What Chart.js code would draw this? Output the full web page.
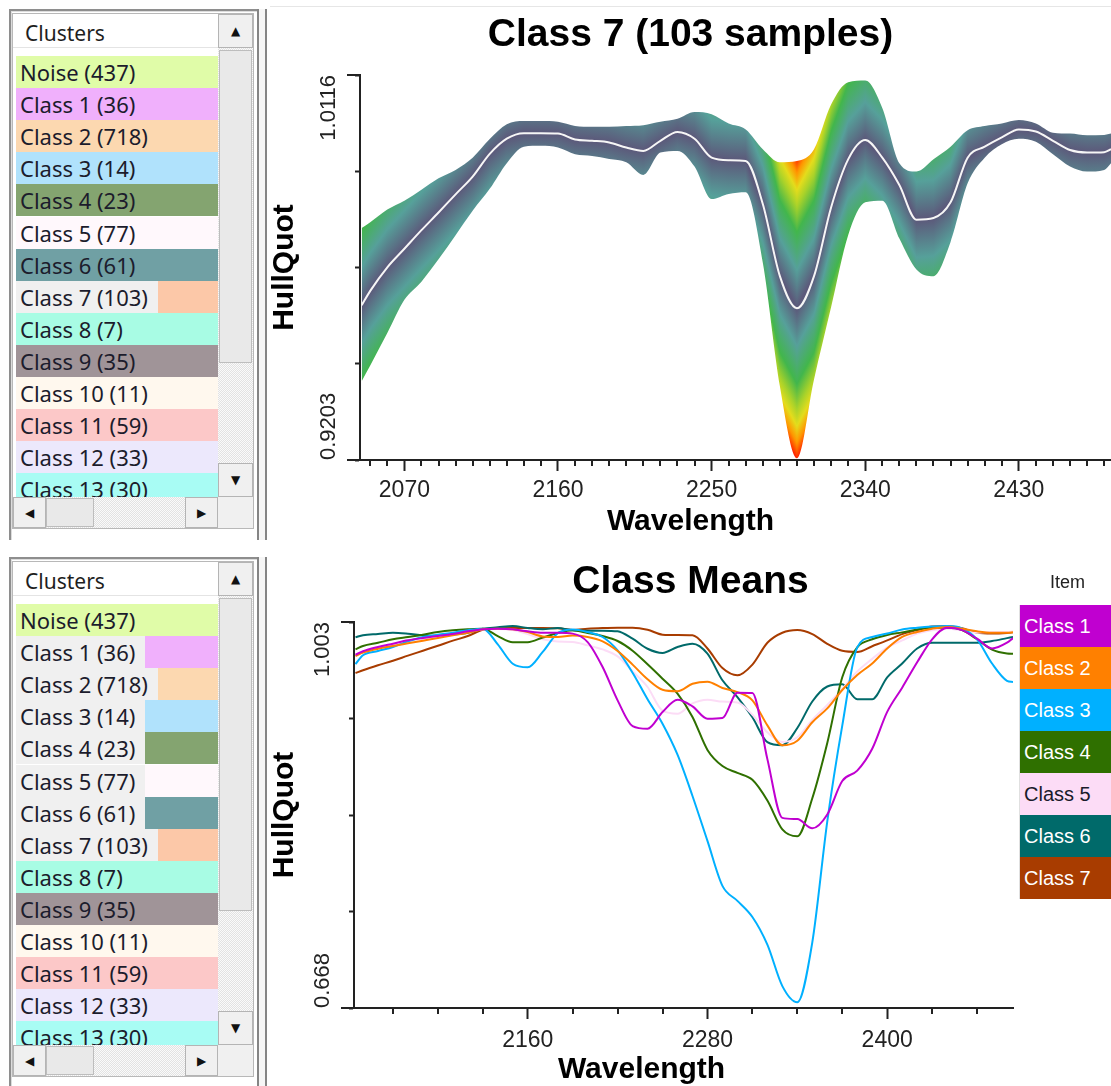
<!DOCTYPE html>
<html>
<head>
<meta charset="utf-8">
<title>Cluster spectra</title>
<script src="https://cdn.jsdelivr.net/npm/chart.js@4.4.1/dist/chart.umd.min.js"></script>
<style>
  html, body { margin: 0; padding: 0; background: #fff; }
  body { position: relative; width: 1111px; height: 1086px; overflow: hidden; font-family: "Noto Sans", "Open Sans", sans-serif; }
  .abs { position: absolute; box-sizing: border-box; }
  .frame { border-top: 2px solid #8e8e8e; border-left: 2px solid #8e8e8e; box-shadow: inset 1px 1px 0 #dcdcdc; }
  .splitter { border-left: 2px solid #858585; border-right: 2px solid #858585; background: #f6f6f6; }
  .listbox { background: #fff; border: 1px solid #b8b8b8; }
  .header { background: #fff; border-bottom: 1px solid #e4e4e4; font-size: 21px; line-height: 33px; padding: 3px 0 0 12px; color: #1e1e1e; }
  .rows { overflow: hidden; }
  .item { position: absolute; left: 0; width: 202px; height: 32px; display: flex; align-items: center; font-size: 22px; color: #1c1c2c; padding-left: 4px; white-space: nowrap; box-sizing: border-box; }
  .swatch { align-self: stretch; flex: 1; margin-left: 10px; }
  .btn { background: #f0f0f0; border: 1px solid #b4b4b4; display: flex; align-items: center; justify-content: center; font: 12px "DejaVu Sans", sans-serif; color: #111; }
  .track { background: repeating-conic-gradient(#e2e2e2 0 25%, #fafafa 0 50%) 0 0 / 2px 2px; }
  .thumb { background: #e9e9e9; border: 1px solid #bdbdbd; }
  .corner { background: #f0f0f0; }
  canvas { position: absolute; }
  #legendTitle { position: absolute; left: 1050px; top: 572px; font: 18px "Liberation Sans", Arial, sans-serif; color: #222; }
  #legend { position: absolute; left: 1019px; top: 605px; width: 92px; }
  .legend-item { height: 42px; font: 20px/42px "Liberation Sans", Arial, sans-serif; padding-left: 4px; box-sizing: border-box; border-left: 1px solid #e0e0e0; }
</style>
</head>
<body>
<div class="abs" style="left:270px;top:6px;width:841px;height:1px;background:#e6e6e6"></div>
<canvas id="classChart" width="841" height="532" style="left:270px;top:8px"></canvas>
<canvas id="meansChart" width="841" height="533" style="left:270px;top:553px"></canvas>
<div id="legendTitle">Item</div>
<div id="legend"></div>
<script>
// ---- data -------------------------------------------------------------
const clusterNames = ['Noise', 'Class 1', 'Class 2', 'Class 3', 'Class 4', 'Class 5', 'Class 6',
  'Class 7', 'Class 8', 'Class 9', 'Class 10', 'Class 11', 'Class 12', 'Class 13'];
const clusterCounts = [437, 36, 718, 14, 23, 77, 61, 103, 7, 35, 11, 59, 33, 30];
const clusterColors = ['#e0fca8', '#f0b0fc', '#fcd8b0', '#b0e2fc', '#84a470', '#fff8fc', '#70a0a4',
  '#fcc8a8', '#a8fce4', '#a09498', '#fff8ee', '#fcc8c8', '#ece8fc', '#a8fcf4'];

const wavelengths = [2045, 2050, 2060, 2070, 2080, 2090, 2100, 2110, 2120, 2130,
  2140, 2150, 2160, 2170, 2180, 2190, 2200, 2210, 2220, 2230,
  2240, 2250, 2260, 2270, 2280, 2290, 2300, 2310, 2320, 2330,
  2340, 2350, 2360, 2370, 2380, 2390, 2400, 2410, 2420, 2430,
  2440, 2450, 2460, 2470, 2480, 2484];

// Class 7: mean spectrum and the min / max envelope of its 103 samples
const classMean = [0.9570, 0.9604, 0.9660, 0.9704, 0.9748, 0.9790, 0.9833, 0.9875, 0.9929, 0.9965,
  0.9978, 0.9978, 0.9977, 0.9963, 0.9960, 0.9956, 0.9944, 0.9936, 0.9960, 0.9981,
  0.9965, 0.9920, 0.9914, 0.9912, 0.9810, 0.9639, 0.9563, 0.9639, 0.9802, 0.9916,
  0.9962, 0.9920, 0.9855, 0.9773, 0.9777, 0.9814, 0.9920, 0.9946, 0.9968, 0.9987,
  0.9982, 0.9960, 0.9938, 0.9932, 0.9933, 0.9940];
const bandUpper = [0.9753, 0.9767, 0.9797, 0.9818, 0.9844, 0.9871, 0.9891, 0.9920, 0.9964, 0.9999,
  1.0007, 1.0007, 1.0005, 0.9995, 0.9993, 0.9993, 0.9995, 0.9997, 1.0005, 1.0012,
  1.0028, 1.0023, 1.0001, 0.9987, 0.9940, 0.9909, 0.9912, 0.9940, 1.0046, 1.0099,
  1.0103, 1.0038, 0.9907, 0.9887, 0.9916, 0.9946, 0.9985, 0.9995, 1.0001, 1.0009,
  1.0001, 0.9979, 0.9977, 0.9973, 0.9974, 0.9977];
const bandLower = [0.9390, 0.9427, 0.9504, 0.9583, 0.9626, 0.9679, 0.9736, 0.9794, 0.9846, 0.9907,
  0.9946, 0.9948, 0.9944, 0.9928, 0.9924, 0.9917, 0.9909, 0.9879, 0.9932, 0.9936,
  0.9899, 0.9822, 0.9834, 0.9838, 0.9671, 0.9378, 0.9207, 0.9394, 0.9565, 0.9736,
  0.9814, 0.9818, 0.9728, 0.9655, 0.9639, 0.9720, 0.9859, 0.9920, 0.9952, 0.9965,
  0.9958, 0.9928, 0.9899, 0.9887, 0.9891, 0.9907];

// class means
const meanClass1 = [0.9746, 0.9776, 0.9813, 0.9842, 0.9871, 0.9891, 0.9908, 0.9926, 0.9949, 0.9967,
  0.9972, 0.9967, 0.9949, 0.9937, 0.9937, 0.9929, 0.9856, 0.9639, 0.9350, 0.9127,
  0.9104, 0.9249, 0.9356, 0.9298, 0.9191, 0.9197, 0.9417, 0.9414, 0.8840, 0.8330,
  0.8320, 0.8240, 0.8360, 0.8650, 0.8740, 0.8930, 0.9250, 0.9460, 0.9680, 0.9880,
  0.9980, 0.9960, 0.9885, 0.9800, 0.9850, 0.9890];
const meanClass2 = [0.9735, 0.9764, 0.9798, 0.9822, 0.9845, 0.9868, 0.9891, 0.9915, 0.9937, 0.9967,
  0.9972, 0.9967, 0.9943, 0.9905, 0.9900, 0.9912, 0.9900, 0.9862, 0.9778, 0.9660,
  0.9533, 0.9442, 0.9429, 0.9494, 0.9512, 0.9457, 0.9422, 0.9350, 0.9133, 0.8960,
  0.9000, 0.9160, 0.9280, 0.9440, 0.9570, 0.9670, 0.9800, 0.9900, 0.9943, 0.9972,
  0.9987, 0.9972, 0.9949, 0.9937, 0.9937, 0.9940];
const meanClass3 = [0.9665, 0.9741, 0.9778, 0.9813, 0.9862, 0.9900, 0.9920, 0.9937, 0.9958, 0.9972,
  0.9836, 0.9668, 0.9637, 0.9770, 0.9932, 0.9965, 0.9943, 0.9900, 0.9784, 0.9590,
  0.9359, 0.9147, 0.8878, 0.8520, 0.8130, 0.7740, 0.7610, 0.7470, 0.7230, 0.6870,
  0.6730, 0.7250, 0.8300, 0.9130, 0.9810, 0.9900, 0.9930, 0.9965, 0.9980, 0.9990,
  0.9995, 0.9975, 0.9880, 0.9670, 0.9520, 0.9510];
const meanClass4 = [0.9793, 0.9822, 0.9850, 0.9880, 0.9900, 0.9920, 0.9943, 0.9958, 0.9967, 0.9972,
  0.9908, 0.9855, 0.9855, 0.9895, 0.9935, 0.9958, 0.9935, 0.9908, 0.9865, 0.9781,
  0.9663, 0.9538, 0.9408, 0.9206, 0.8920, 0.8780, 0.8720, 0.8660, 0.8480, 0.8230,
  0.8170, 0.8500, 0.8980, 0.9550, 0.9810, 0.9880, 0.9918, 0.9940, 0.9965, 0.9980,
  0.9980, 0.9960, 0.9880, 0.9790, 0.9757, 0.9755];
const meanClass5 = [0.9740, 0.9770, 0.9805, 0.9835, 0.9862, 0.9885, 0.9905, 0.9922, 0.9945, 0.9965,
  0.9970, 0.9960, 0.9925, 0.9880, 0.9860, 0.9856, 0.9827, 0.9792, 0.9732, 0.9602,
  0.9466, 0.9260, 0.9234, 0.9324, 0.9356, 0.9339, 0.9331, 0.9225, 0.9073, 0.8989,
  0.9030, 0.9180, 0.9310, 0.9450, 0.9600, 0.9710, 0.9810, 0.9870, 0.9929, 0.9958,
  0.9972, 0.9958, 0.9937, 0.9943, 0.9943, 0.9949];
const meanClass6 = [0.9897, 0.9915, 0.9926, 0.9937, 0.9929, 0.9915, 0.9908, 0.9920, 0.9937, 0.9972,
  0.9984, 0.9995, 0.9978, 0.9967, 0.9978, 0.9958, 0.9955, 0.9955, 0.9949, 0.9885,
  0.9798, 0.9761, 0.9813, 0.9842, 0.9755, 0.9524, 0.9379, 0.9203, 0.8987, 0.8960,
  0.9110, 0.9340, 0.9470, 0.9490, 0.9360, 0.9360, 0.9550, 0.9670, 0.9800, 0.9850,
  0.9850, 0.9850, 0.9850, 0.9865, 0.9890, 0.9900];
const meanClass7 = [0.9587, 0.9611, 0.9654, 0.9694, 0.9738, 0.9781, 0.9824, 0.9868, 0.9908, 0.9963,
  0.9975, 0.9978, 0.9978, 0.9978, 0.9975, 0.9961, 0.9972, 0.9978, 0.9981, 0.9981,
  0.9963, 0.9920, 0.9917, 0.9915, 0.9800, 0.9630, 0.9567, 0.9660, 0.9850, 0.9937,
  0.9960, 0.9925, 0.9840, 0.9780, 0.9770, 0.9820, 0.9870, 0.9925, 0.9960, 0.9990,
  0.9995, 0.9975, 0.9937, 0.9930, 0.9935, 0.9940];

const meanLabels = ['Class 1', 'Class 2', 'Class 3', 'Class 4', 'Class 5', 'Class 6', 'Class 7'];
const meanSeries = [meanClass1, meanClass2, meanClass3, meanClass4, meanClass5, meanClass6, meanClass7];
const meanColors = ['#c000d0', '#ff8000', '#00b0ff', '#2f7000', '#fcdcf6', '#006a6a', '#a83c00'];

const xRange = [2044, 2484];
const topYRange = [0.9203, 1.0116];
const bottomYRange = [0.668, 1.003];
const topXTicks = [2070, 2160, 2250, 2340, 2430];
const bottomXTicks = [2160, 2280, 2400];
const topMinorTicks = [];
for (let w = 2050; w <= 2480; w += 10) if (!topXTicks.includes(w)) topMinorTicks.push(w);
const bottomMinorTicks = [2070, 2100, 2130, 2190, 2220, 2250, 2310, 2340, 2370, 2430, 2460];

// ---- cluster list panels ---------------------------------------------
function place(cls, left, top, width, height, text, parent) {
  const el = document.createElement('div');
  el.className = 'abs ' + cls;
  Object.assign(el.style, { left: left + 'px', top: top + 'px', width: width + 'px', height: height + 'px' });
  if (text) el.textContent = text;
  (parent || document.body).appendChild(el);
  return el;
}

function buildPanel(top, swatchRows) {
  place('frame', 9, top + 9, 250, 531);
  place('splitter', 257, top + 9, 10, 531);
  place('listbox', 12, top + 13, 242, 516);
  place('header', 13, top + 14, 205, 34, 'Clusters');
  const rows = place('rows', 16, top + 56, 202, 441);
  clusterNames.forEach((name, i) => {
    const row = document.createElement('div');
    row.className = 'item';
    row.style.top = Math.round(i * 32.1) + 'px';
    const label = document.createElement('span');
    label.textContent = name + ' (' + clusterCounts[i] + ')';
    row.appendChild(label);
    if (swatchRows.includes(i)) {
      row.style.background = '#f0f0f0';
      const sw = document.createElement('span');
      sw.className = 'swatch';
      sw.style.background = clusterColors[i];
      row.appendChild(sw);
    } else {
      row.style.background = clusterColors[i];
    }
    rows.appendChild(row);
  });
  place('track', 218, top + 48, 35, 449);
  place('btn', 218, top + 14, 35, 34, '\u25B2');
  place('thumb', 219, top + 50, 33, 313);
  place('btn', 218, top + 463, 35, 34, '\u25BC');
  place('track', 13, top + 497, 205, 31);
  place('btn', 13, top + 497, 33, 31, '\u25C0');
  place('thumb', 46, top + 498, 48, 29);
  place('btn', 185, top + 497, 33, 31, '\u25B6');
  place('corner', 218, top + 497, 35, 31);
}
buildPanel(0, [7]);
buildPanel(548, [1, 2, 3, 4, 5, 6, 7]);

// ---- chart helpers ----------------------------------------------------
Chart.defaults.font.family = '"Liberation Sans", Arial, sans-serif';
Chart.defaults.color = '#222';

const pairs = (xs, ys) => xs.map((x, i) => ({ x: x, y: ys[i] }));
const quarterTicks = (range) => [0, 1, 2, 3, 4].map(k => ({ value: range[0] + (range[1] - range[0]) * k / 4 }));

function meanAt(w) {
  if (w <= wavelengths[0]) return classMean[0];
  for (let i = 1; i < wavelengths.length; i++) {
    if (w <= wavelengths[i]) {
      const t = (w - wavelengths[i - 1]) / (wavelengths[i] - wavelengths[i - 1]);
      return classMean[i - 1] + (classMean[i] - classMean[i - 1]) * t;
    }
  }
  return classMean[classMean.length - 1];
}

// colour of the envelope by distance from the class mean
const devStops = [0, 0.009, 0.018, 0.024, 0.028, 0.032, 0.036];
const devColors = ['#5c587a', '#56a09a', '#42b64c', '#a8d22a', '#e4dc1c', '#ff9600', '#ff1e00'];

function bandPaint(context) {
  const chart = context.chart;
  const area = chart.chartArea;
  if (!area) return 'rgba(0,0,0,0)';
  if (chart.$bandPattern) return chart.$bandPattern;
  const xs = chart.scales.x, ys = chart.scales.y;
  const reach = devStops[devStops.length - 1];
  const reachPx = Math.abs(ys.getPixelForValue(ys.min + reach) - ys.getPixelForValue(ys.min));
  const off = document.createElement('canvas');
  off.width = chart.width;
  off.height = chart.height;
  const g = off.getContext('2d');
  for (let px = Math.floor(area.left); px < Math.ceil(area.right); px++) {
    const mid = ys.getPixelForValue(meanAt(xs.getValueForPixel(px + 0.5)));
    const grad = g.createLinearGradient(0, mid - reachPx, 0, mid + reachPx);
    devStops.forEach((d, i) => {
      grad.addColorStop(0.5 - d / reach / 2, devColors[i]);
      if (i) grad.addColorStop(0.5 + d / reach / 2, devColors[i]);
    });
    g.fillStyle = grad;
    g.fillRect(px, area.top, 1, area.bottom - area.top);
  }
  chart.$bandPattern = chart.ctx.createPattern(off, 'no-repeat');
  return chart.$bandPattern;
}

// minor ticks, long end marks, rotated end labels and the x caption
const axisDecor = {
  id: 'axisDecor',
  afterDraw(chart, args, opts) {
    const { ctx, chartArea: area, scales: { x, y } } = chart;
    ctx.save();
    ctx.strokeStyle = '#222';
    ctx.lineWidth = 2;
    ctx.beginPath();
    opts.minorTicks.forEach(v => {
      const px = Math.round(x.getPixelForValue(v));
      ctx.moveTo(px, area.bottom);
      ctx.lineTo(px, area.bottom + 6);
    });
    const yTop = Math.round(y.getPixelForValue(y.max));
    const yBot = Math.round(y.getPixelForValue(y.min));
    ctx.moveTo(area.left - 13, yTop);
    ctx.lineTo(area.left, yTop);
    ctx.moveTo(area.left - 13, yBot);
    ctx.lineTo(area.left, yBot);
    ctx.stroke();

    ctx.fillStyle = '#222';
    ctx.font = '22px "Liberation Sans", Arial, sans-serif';
    ctx.textBaseline = 'middle';
    [[y.max, 'right'], [y.min, 'left']].forEach(([v, align]) => {
      ctx.save();
      ctx.translate(area.left - 31, y.getPixelForValue(v));
      ctx.rotate(-Math.PI / 2);
      ctx.textAlign = align;
      ctx.fillText(String(v), 0, 0);
      ctx.restore();
    });

    ctx.fillStyle = '#000';
    ctx.font = 'bold 30px "Liberation Sans", Arial, sans-serif';
    ctx.textAlign = 'center';
    ctx.fillText(opts.caption, area.right / 2, opts.captionY);
    ctx.restore();
  }
};

function axes(yRange, yWidth, majorTicks, xHeight, labelPad, rightGap) {
  const scales = {
    x: {
      type: 'linear', min: xRange[0], max: xRange[1],
      afterBuildTicks: s => { s.ticks = majorTicks.map(v => ({ value: v })); },
      afterFit: s => { s.height = xHeight; },
      grid: { drawOnChartArea: false, tickLength: 11, tickWidth: 2, tickColor: '#222' },
      border: { color: '#222', width: 2 },
      ticks: { font: { size: 23 }, color: '#222', padding: labelPad, maxRotation: 0, callback: v => String(v) }
    },
    y: {
      type: 'linear', min: yRange[0], max: yRange[1],
      afterBuildTicks: s => { s.ticks = quarterTicks(yRange); },
      afterFit: s => { s.width = yWidth; },
      grid: { drawOnChartArea: false, tickLength: 5, tickWidth: 2, tickColor: '#222' },
      border: { color: '#222', width: 2 },
      ticks: { display: false },
      title: { display: true, text: 'HullQuot', color: '#000', padding: 0,
        font: { size: 30, weight: 'bold', lineHeight: 1 } }
    }
  };
  if (rightGap) {
    // empty axis on the right that keeps room for the html legend
    scales.legendGap = {
      type: 'linear', axis: 'y', position: 'right', min: yRange[0], max: yRange[1],
      afterFit: s => { s.width = rightGap; },
      grid: { display: false }, border: { display: false }, ticks: { display: false }
    };
  }
  return scales;
}

// ---- Class 7 envelope chart ------------------------------------------
new Chart(document.getElementById('classChart'), {
  type: 'line',
  data: {
    datasets: [
      { label: 'Max', data: pairs(wavelengths, bandUpper), order: 2, fill: 1,
        backgroundColor: bandPaint, borderWidth: 0, pointRadius: 0, cubicInterpolationMode: 'monotone' },
      { label: 'Min', data: pairs(wavelengths, bandLower), order: 1, fill: false,
        borderWidth: 0, pointRadius: 0, cubicInterpolationMode: 'monotone' },
      { label: 'Mean', data: pairs(wavelengths, classMean), order: 0, fill: false,
        borderColor: '#f6f6f6', borderWidth: 2, pointRadius: 0, cubicInterpolationMode: 'monotone' }
    ]
  },
  options: {
    responsive: false,
    animation: false,
    events: [],
    layout: { padding: 0 },
    scales: axes(topYRange, 90, topXTicks, 80, 6, 0),
    plugins: {
      legend: { display: false },
      tooltip: { enabled: false },
      title: { display: true, text: 'Class 7 (103 samples)', color: '#000',
        font: { size: 39, weight: 'bold', lineHeight: 1.2 }, padding: { top: 4, bottom: 16.2 } },
      axisDecor: { minorTicks: topMinorTicks, caption: 'Wavelength', captionY: 514 }
    }
  },
  plugins: [axisDecor]
});

// ---- class means chart -----------------------------------------------
const meansChart = new Chart(document.getElementById('meansChart'), {
  type: 'line',
  data: {
    datasets: meanSeries.map((vals, i) => ({
      label: meanLabels[i],
      data: pairs(wavelengths, vals),
      borderColor: meanColors[i],
      backgroundColor: meanColors[i],
      borderWidth: 2,
      pointRadius: 0,
      fill: false,
      cubicInterpolationMode: 'monotone'
    }))
  },
  options: {
    responsive: false,
    animation: false,
    events: [],
    layout: { padding: 0 },
    scales: axes(bottomYRange, 84, bottomXTicks, 78, 8, 98),
    plugins: {
      legend: { display: false },
      tooltip: { enabled: false },
      title: { display: true, text: 'Class Means', color: '#000',
        font: { size: 39, weight: 'bold', lineHeight: 1.2 }, padding: { top: 6, bottom: 16.2 } },
      axisDecor: { minorTicks: bottomMinorTicks, caption: 'Wavelength', captionY: 517 }
    }
  },
  plugins: [axisDecor]
});

// html legend built from the chart's datasets
const legendBox = document.getElementById('legend');
meansChart.data.datasets.forEach(ds => {
  const c = ds.borderColor;
  const r = parseInt(c.slice(1, 3), 16), g = parseInt(c.slice(3, 5), 16), b = parseInt(c.slice(5, 7), 16);
  const row = document.createElement('div');
  row.className = 'legend-item';
  row.style.background = c;
  row.style.color = (0.3 * r + 0.59 * g + 0.11 * b) > 180 ? '#1a1a2a' : '#ffffff';
  row.textContent = ds.label;
  legendBox.appendChild(row);
});
</script>
</body>
</html>
